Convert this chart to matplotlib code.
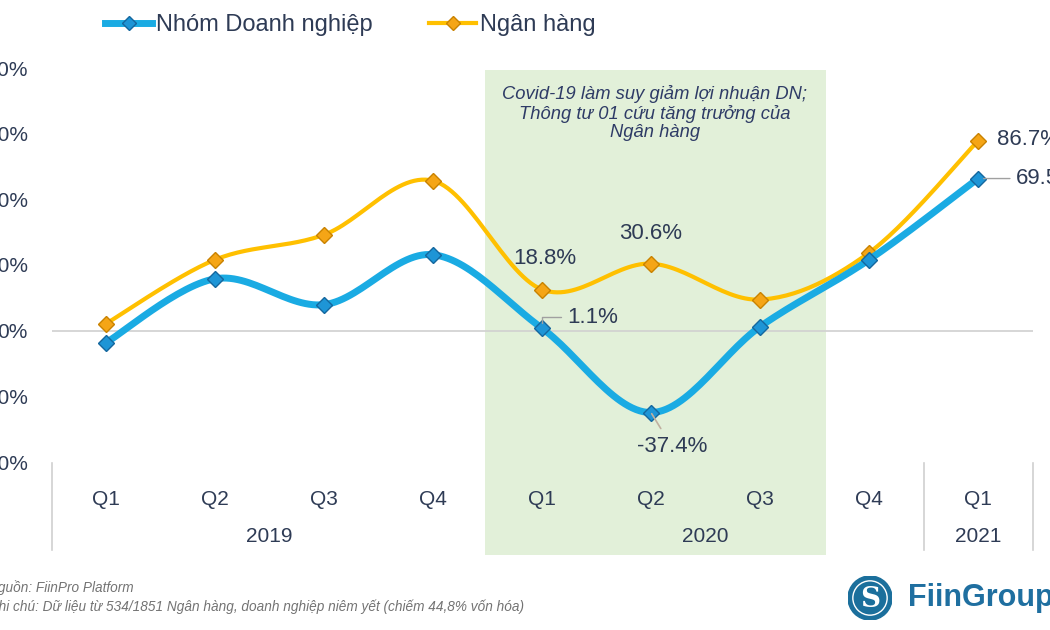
import numpy as np
import matplotlib
matplotlib.use("Agg")
import matplotlib.pyplot as plt
from matplotlib.patches import Rectangle, Circle
from matplotlib.lines import Line2D

plt.rcParams['font.family'] = ['Liberation Sans', 'DejaVu Sans']

quarters = ["Q1", "Q2", "Q3", "Q4", "Q1", "Q2", "Q3", "Q4", "Q1"]
years = ["2019", "2020", "2021"]
year_centers = [1.5, 5.5, 8.0]
doanh_nghiep = [-5.5, 23.7, 11.9, 34.7, 1.1, -37.4, 1.8, 32.4, 69.5]
ngan_hang = [3.2, 32.4, 43.8, 68.5, 18.8, 30.6, 14.2, 35.6, 86.7]
yticks = [-60, -30, 0, 30, 60, 90, 120]

BLUE = "#1AABE3"
BLUE_M = "#1E95D6"
BLUE_E = "#14679E"
YEL = "#FFC000"
YEL_M = "#F5A516"
YEL_E = "#C98200"
TXT = "#2E3B55"


def smooth(x, y, n=30):
    x = np.asarray(x, float)
    y = np.asarray(y, float)
    P = np.column_stack([x, y])
    out = [P[0]]
    for i in range(len(P) - 1):
        p0 = P[i - 1] if i > 0 else P[i]
        p1 = P[i]
        p2 = P[i + 1]
        p3 = P[i + 2] if i + 2 < len(P) else P[i + 1]
        c1 = p1 + (p2 - p0) / 6
        c2 = p2 - (p3 - p1) / 6
        t = np.linspace(0, 1, n)[1:, None]
        seg = ((1 - t) ** 3) * p1 + 3 * ((1 - t) ** 2) * t * c1 + 3 * (1 - t) * t ** 2 * c2 + t ** 3 * p2
        out.extend(seg)
    out = np.array(out)
    return out[:, 0], out[:, 1]


fig = plt.figure(figsize=(10.5, 6.3), dpi=100)
ax = fig.add_axes([51.5 / 1050, 1 - 462 / 630, (1032.5 - 51.5) / 1050, 394 / 630])

x = np.arange(len(quarters))
ax.set_xlim(-0.5, 8.5)
ax.set_ylim(-60, 120)

# green highlight box (in figure pixels)
box = Rectangle((485 / 1050, 1 - 555 / 630), (826 - 485) / 1050, (555 - 70) / 630,
                transform=fig.transFigure, facecolor="#E2F0D9", edgecolor="none",
                zorder=0, clip_on=False)
ax.add_patch(box)

ax.axhline(0, color="#D0D0D0", lw=1.2, zorder=1)

xs, ys = smooth(x, ngan_hang)
ax.plot(xs, ys, color=YEL, lw=3, zorder=3, solid_capstyle="round")
ax.plot(x, ngan_hang, ls="none", marker="D", ms=8, mfc=YEL_M, mec=YEL_E, mew=1, zorder=4)
xs, ys = smooth(x, doanh_nghiep)
ax.plot(xs, ys, color=BLUE, lw=5, zorder=5, solid_capstyle="round")
ax.plot(x, doanh_nghiep, ls="none", marker="D", ms=8, mfc=BLUE_M, mec=BLUE_E, mew=1, zorder=6)

for s in ax.spines.values():
    s.set_visible(False)
ax.set_yticks(yticks)
ax.set_yticklabels([f"{v}%" for v in yticks])
ax.tick_params(axis="y", length=0, pad=17, labelsize=15, labelcolor=TXT)
ax.set_xticks(x)
ax.set_xticklabels(quarters)
ax.tick_params(axis="x", length=0, pad=20, labelsize=15, labelcolor=TXT)

for xc, yr in zip(year_centers, years):
    ax.text(xc, -0.19, yr, transform=ax.get_xaxis_transform(), ha="center", va="center",
            fontsize=15, color=TXT)
for xb in [-0.5, 7.5, 8.5]:
    ax.add_line(Line2D([xb, xb], [-0.003, -0.223], transform=ax.get_xaxis_transform(),
                       color="#D0D0D0", lw=1.2, clip_on=False, zorder=0.5))

# data labels
LFS = 16
fmt = lambda v: f"{v:.1f}%"
ax.annotate(fmt(ngan_hang[4]), (4, ngan_hang[4]), xytext=(2, 22), textcoords="offset points",
            ha="center", va="center", fontsize=LFS, color=TXT, zorder=7)
ax.annotate(fmt(ngan_hang[5]), (5, ngan_hang[5]), xytext=(0, 21.5), textcoords="offset points",
            ha="center", va="center", fontsize=LFS, color=TXT, zorder=7)
ax.annotate(fmt(ngan_hang[8]), (8, ngan_hang[8]), xytext=(14, 1), textcoords="offset points",
            ha="left", va="center", fontsize=LFS, color=TXT, zorder=7)
ax.annotate(fmt(doanh_nghiep[4]), (4, doanh_nghiep[4]), xytext=(18, 8), textcoords="offset points",
            ha="left", va="center", fontsize=LFS, color=TXT, zorder=7,
            arrowprops=dict(arrowstyle="-", color="#A0A0A0", lw=1,
                            connectionstyle="angle,angleA=0,angleB=90,rad=0", shrinkA=2, shrinkB=4))
ax.annotate(fmt(doanh_nghiep[5]), (5, doanh_nghiep[5]), xytext=(15, -24.5), textcoords="offset points",
            ha="center", va="center", fontsize=LFS, color=TXT, zorder=7,
            arrowprops=dict(arrowstyle="-", color="#C0B0A0", lw=1.2, shrinkA=4, shrinkB=1))
ax.annotate(fmt(doanh_nghiep[8]), (8, doanh_nghiep[8]), xytext=(27, 0), textcoords="offset points",
            ha="left", va="center", fontsize=LFS, color=TXT, zorder=7,
            arrowprops=dict(arrowstyle="-", color="#A0A0A0", lw=1, shrinkA=2, shrinkB=4))

# box text
fig.text(655 / 1050, 1 - 113 / 630,
         "Covid-19 làm suy giảm lợi nhuận DN;\nThông tư 01 cứu tăng trưởng của\nNgân hàng",
         ha="center", va="center", fontsize=13.2, style="italic", color="#2E3B66", linespacing=1.1)

# legend
h1 = Line2D([], [], color=BLUE, lw=5, marker="D", ms=7, mfc=BLUE_M, mec=BLUE_E)
h2 = Line2D([], [], color=YEL, lw=3, marker="D", ms=7, mfc=YEL_M, mec=YEL_E)
fig.legend([h1, h2], ["Nhóm Doanh nghiệp", "Ngân hàng"], loc="center left",
           bbox_to_anchor=(105 / 1050, 1 - 25 / 630), ncol=2, frameon=False, fontsize=17,
           handlelength=2.0, handletextpad=0.15, columnspacing=2.4, labelcolor=TXT,
           borderaxespad=0, borderpad=0)

# footer
fig.text(-12 / 1050, 1 - 588 / 630, "Nguồn: FiinPro Platform", fontsize=9.8, style="italic",
         color="#737373", ha="left", va="center")
fig.text(-12 / 1050, 1 - 607 / 630,
         "Ghi chú: Dữ liệu từ 534/1851 Ngân hàng, doanh nghiệp niêm yết (chiếm 44,8% vốn hóa)",
         fontsize=9.8, style="italic", color="#737373", ha="left", va="center")

# logo
ax_logo = fig.add_axes([848 / 1050, 1 - 620 / 630, 44 / 1050, 44 / 630])
ax_logo.set_xlim(-1, 1)
ax_logo.set_ylim(-1, 1)
ax_logo.set_aspect("equal")
ax_logo.axis("off")
ax_logo.add_patch(Circle((0, 0), 1, color="#1B6F9C"))
ax_logo.add_patch(Circle((0, 0), 0.78, fill=False, ec="white", lw=1))
ax_logo.text(0, -0.05, "S", color="white", fontsize=20, ha="center", va="center",
             family="DejaVu Serif", fontweight="bold")
fig.text(908 / 1050, 1 - 598 / 630, "FiinGroup", fontsize=22, fontweight="bold",
         color="#1F6FA0", ha="left", va="center")

fig.savefig("out.png", dpi=100)
